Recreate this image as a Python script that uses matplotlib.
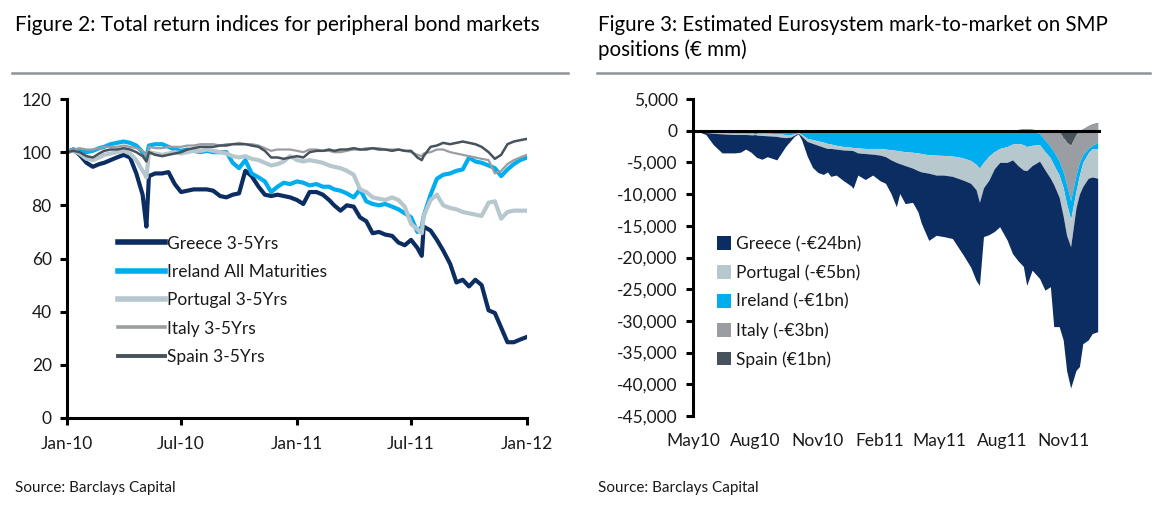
import numpy as np
import pandas as pd
import matplotlib
matplotlib.use('Agg')
from matplotlib import pyplot as plt
from matplotlib import transforms as mtransforms
from matplotlib.lines import Line2D
from matplotlib.patches import Patch

plt.rcParams['font.family'] = ['Lato', 'DejaVu Sans']

# ---------------- Figure 2: total return indices (Jan-10 = 100)
tr_dates = ['2010-01-01', '2010-01-11', '2010-01-21', '2010-02-01', '2010-02-11', '2010-02-21',
            '2010-03-01', '2010-03-11', '2010-03-21', '2010-04-01', '2010-04-11', '2010-04-21',
            '2010-05-01', '2010-05-04', '2010-05-07', '2010-05-11', '2010-05-21',
            '2010-06-01', '2010-06-11', '2010-06-21', '2010-07-01', '2010-07-11', '2010-07-21',
            '2010-08-01', '2010-08-11', '2010-08-21', '2010-09-01', '2010-09-11', '2010-09-21',
            '2010-10-01', '2010-10-11', '2010-10-21', '2010-11-01', '2010-11-11', '2010-11-21',
            '2010-12-01', '2010-12-11', '2010-12-21',
            '2011-01-01', '2011-01-11', '2011-01-21', '2011-02-01', '2011-02-11', '2011-02-21',
            '2011-03-01', '2011-03-11', '2011-03-21', '2011-04-01', '2011-04-11', '2011-04-21',
            '2011-05-01', '2011-05-11', '2011-05-21', '2011-06-01', '2011-06-11', '2011-06-21',
            '2011-07-01', '2011-07-11', '2011-07-18', '2011-07-21', '2011-08-01', '2011-08-11',
            '2011-08-21', '2011-09-01', '2011-09-11', '2011-09-21', '2011-10-01', '2011-10-11',
            '2011-10-21', '2011-11-01', '2011-11-11', '2011-11-21', '2011-12-01', '2011-12-11',
            '2011-12-21', '2012-01-01']

greece_tr = [100, 101, 99, 96, 94.5, 95.5, 96, 97, 98, 99, 98, 92,
             84, 78, 72, 91, 92, 92, 92.5, 88, 85, 85.5, 86,
             86, 86, 85.5, 83.5, 83, 84, 84.5, 93, 91, 87, 84, 83.5,
             84, 83.5, 83,
             82, 80.5, 85, 85, 84, 82, 80, 78, 80, 79.5, 75.5, 74,
             69.5, 70, 69, 68.5, 66, 65, 67, 64, 61, 72, 70.5, 67,
             63, 58, 51, 52, 49.5, 52, 50, 40.5, 39.5, 34, 28.5, 28.5,
             29.5, 30.5]
ireland_tr = [100, 101, 100.5, 100, 100.5, 101.5, 102, 103, 103.5, 104, 103.5, 102.5,
              100, 99, 98, 102.5, 103, 103, 102, 101, 100.5, 101, 100.5,
              100, 100.5, 100, 100, 100, 96, 94, 97, 92, 90.5, 89, 85,
              87, 88.5, 88,
              89, 88.5, 87.5, 88, 87, 87, 86, 85.5, 84.5, 83, 86, 81.5,
              80.5, 80, 80.5, 79.5, 78.5, 77, 75.5, 70, 72, 76, 84, 90,
              91.5, 92, 93, 93.5, 98, 96.5, 96, 95, 94, 91, 93.5, 95.5,
              97, 98]
portugal_tr = [100, 100.5, 99.5, 97.5, 97, 98, 99, 99.5, 100, 100.5, 99.5, 97,
               93, 92, 90.5, 100, 99.5, 99, 99.5, 100, 99.5, 100, 100.5,
               100.5, 101, 100.5, 100, 99.5, 98.5, 98, 98.5, 97.5, 97, 96, 95,
               95.5, 96.5, 98.5,
               97, 96.5, 97, 96.5, 96, 95, 94.5, 94, 93, 91.5, 86, 85,
               83, 82.5, 82, 83, 82, 79.5, 73, 71, 69.5, 76, 82, 84,
               80, 79, 78.5, 77.5, 77, 76.5, 76, 81, 81.5, 75, 77.5, 78,
               78, 78]
italy_tr = [100, 101, 101.5, 101, 101, 101.5, 102, 102, 102, 102.5, 102, 101.5,
            100.5, 99.5, 98.5, 102, 101.5, 101.5, 102, 102, 102, 102.5, 102.5,
            103, 103, 103, 102.5, 103, 103, 103.5, 103, 103, 102.5, 101.5, 100.5,
            101, 101, 101,
            100.5, 100, 101, 101, 100.5, 100.5, 100, 100, 100.5, 101, 101, 101.5,
            101.5, 101.5, 101, 101, 101, 100.5, 100, 99, 98.5, 99.5, 100, 101,
            101, 100, 99.5, 99, 98.5, 98, 97.5, 97, 92, 93, 95.5, 97,
            98, 99]
spain_tr = [100, 100.5, 100, 98.5, 98, 99.5, 100.5, 101, 101, 101.5, 101, 100,
            98.5, 97.5, 96.5, 100, 99, 98.5, 99, 99.5, 100, 101, 101.5,
            102, 102, 102, 102.5, 102.5, 103, 103, 103, 102.5, 102, 100.5, 98,
            98, 97.5, 98,
            98.5, 98, 100, 100.5, 100.5, 101, 100.5, 101, 101, 101.5, 101, 101,
            101.5, 101, 101, 100.5, 101, 100.5, 100.5, 98, 97, 98.5, 102, 102.5,
            103.5, 103, 103.5, 104, 103.5, 103, 102, 100, 97.5, 99, 103, 104,
            104.5, 105]

tr_labels = ['Greece 3-5Yrs', 'Ireland All Maturities', 'Portugal 3-5Yrs',
             'Italy 3-5Yrs', 'Spain 3-5Yrs']
tr_ticks = ['2010-01-01', '2010-07-01', '2011-01-01', '2011-07-01', '2012-01-01']
tr_tick_labels = ['Jan-10', 'Jul-10', 'Jan-11', 'Jul-11', 'Jan-12']

# ---------------- Figure 3: SMP mark-to-market (EUR mm), days after 10 May 2010
smp_days = [0, 8, 19, 30, 43, 62, 70, 78, 86, 94, 102, 110, 124, 129, 137, 145, 150, 156,
            161, 169, 177, 185, 193, 199, 204, 212, 223, 234, 237, 244, 255, 266, 277, 285,
            293, 301, 306, 314, 325, 333, 338, 349, 360, 371, 384, 392, 400, 411, 419, 424,
            430, 438, 446, 454, 465, 473, 481, 489, 494, 502, 513, 521, 529, 534, 542, 548,
            553, 559, 567, 572, 577, 585, 591, 599]
spain_mtm = [0] * 56 + [200, 300, 300, 250, 0, 0, 0, 0, -200, -1000, -1800, -2300,
                        -600, 0, 300, 800, 1100, 1300]
italy_mtm = [0] * 56 + [-250, -400, -400, -350, -400, -1500, -2500, -3300, -4600, -5500,
                        -6700, -8700, -6400, -5000, -4100, -3600, -3400, -3200]
ireland_mtm = [0, -100, -200, -300, -350, -400, -400, -400, -400, -400, -400, -400,
               -450, -500, -600, -600, -500, -300, -600, -1200, -1400, -1600, -1800, -2000,
               -2100, -2300, -2500, -2600, -2650, -2700, -2800, -2800, -2800, -2900, -3000,
               -3100, -3200, -3300, -3400, -3500, -3600, -3800, -3850, -3900, -4000, -4100,
               -4300, -4700, -5300, -5900, -5000, -4000, -3300, -2800, -2500, -2100,
               -1950, -2100, -2400, -2200, -1800, -1800, -1800, -2100, -2200, -2500, -3000,
               -3000, -2500, -2000, -1200, -700, -500, -1000]
portugal_mtm = [0, -50, -100, -100, -150, -200, -200, -200, -250, -300, -350, -400,
                -450, -500, -500, -400, -200, -100, -300, -500, -600, -700, -800, -800,
                -700, -600, -550, -500, -500, -800, -800, -900, -1050, -1200, -1600,
                -1900, -2000, -2200, -2500, -2800, -2900, -2900, -3150, -3100, -3200, -3400,
                -3500, -3600, -4000, -5400, -4000, -3800, -2700, -2200, -2500, -2500,
                -3500, -4000, -3800, -3200, -2600, -2900, -3200, -3100, -3500, -4500, -5000,
                -4300, -2600, -3000, -3800, -4000, -4500, -4600]
greece_mtm = [0, 0, -300, -1800, -3000, -2900, -2800, -2300, -2750, -3500, -3750, -3300,
              -3700, -2800, -1400, -500, -200, -100, -600, -2300, -3800, -4300, -4300, -3700,
              -4400, -4100, -4850, -5600, -5950, -3500, -4100, -3300, -4050, -4200, -5300,
              -7000, -4700, -6000, -5400, -6500, -8100, -10600, -9500, -9700, -9800, -10800,
              -11800, -13200, -14300, -13100, -7700, -8600, -9900, -10150, -12250, -14800,
              -15000, -15200, -18100, -16500, -18500, -18950, -17100, -22400, -20400,
              -19500, -21300, -22300, -25700, -27200, -24800, -25500, -24700, -24200]

smp_labels = ['Greece (-€24bn)', 'Portugal (-€5bn)', 'Ireland (-€1bn)',
              'Italy (-€3bn)', 'Spain (€1bn)']
smp_ticks = ['2010-05-10', '2010-08-10', '2010-11-10', '2011-02-10',
             '2011-05-10', '2011-08-10', '2011-11-10']
smp_tick_labels = ['May10', 'Aug10', 'Nov10', 'Feb11', 'May11', 'Aug11', 'Nov11']

# colours
navy = '#0c2d62'
sky = '#00aeef'
pale = '#b7c7ce'
grey = '#9a9da1'
slate = '#47525c'
ink = '#1a1a1a'

fig = plt.figure(figsize=(11.6, 5.08), dpi=100)
W, H = 1160.0, 508.0


def px_axes(x0, y_top, x1, y_bot):
    return fig.add_axes([x0 / W, 1 - y_bot / H, (x1 - x0) / W, (y_bot - y_top) / H])


def style_axis(ax):
    for side in ['top', 'right']:
        ax.spines[side].set_visible(False)
    for side in ['left', 'bottom']:
        ax.spines[side].set_linewidth(2.2)
        ax.spines[side].set_color('black')
    ax.tick_params(direction='out', length=5, width=2.2, colors='black',
                   labelcolor=ink, labelsize=12.5)


# ---- left chart
ax1 = px_axes(67, 99, 527, 418)
style_axis(ax1)
x_tr = pd.to_datetime(tr_dates)
series_tr = [greece_tr, ireland_tr, portugal_tr, italy_tr, spain_tr]
colors_tr = [navy, sky, pale, grey, slate]
widths_tr = [3.0, 3.0, 3.0, 1.6, 1.8]
for vals, col, lw, lab in zip(series_tr, colors_tr, widths_tr, tr_labels):
    ax1.plot(x_tr, vals, color=col, lw=lw, label=lab, solid_joinstyle='round')
ax1.set_xlim(pd.Timestamp('2010-01-01'), pd.Timestamp('2012-01-01'))
ax1.set_ylim(0, 120)
ax1.set_yticks(range(0, 121, 20))
ax1.set_xticks(pd.to_datetime(tr_ticks))
ax1.set_xticklabels(tr_tick_labels)
ax1.tick_params(axis='x', pad=8)
ax1.tick_params(axis='y', pad=6)

handles = [Line2D([], [], color=c, lw=w + 1.0) for c, w in zip(colors_tr, widths_tr)]
ax1.legend(handles, tr_labels, loc='upper left', bbox_to_anchor=(0.11, 0.572),
           frameon=False, fontsize=12.5, handlelength=2.75, handletextpad=0.1,
           labelspacing=0.71, borderaxespad=0, borderpad=0, labelcolor=ink)

# ---- right chart
ax2 = px_axes(693, 99, 1099, 416)
style_axis(ax2)
x_smp = pd.Timestamp('2010-05-10') + pd.to_timedelta(smp_days, unit='D')
stack_order = [spain_mtm, italy_mtm, ireland_mtm, portugal_mtm, greece_mtm]
stack_cols = [slate, grey, sky, pale, navy]
# Excel-style stacked bands: each series fills between running totals
bounds = np.vstack([np.zeros(len(smp_days)), np.cumsum(np.array(stack_order, dtype=float), axis=0)])
for k, col in enumerate(stack_cols):
    ax2.fill_between(x_smp, bounds[k], bounds[k + 1], color=col, lw=0, zorder=2 + k)

ax2.set_xlim(pd.Timestamp('2010-05-10'), pd.Timestamp('2010-05-10') + pd.Timedelta(days=601))
ax2.set_ylim(-45000, 5000)
ax2.set_yticks(range(-45000, 5001, 5000))
ax2.set_yticklabels(['{:,}'.format(v) for v in range(-45000, 5001, 5000)])
ax2.tick_params(axis='y', pad=6)
ax2.spines['bottom'].set_position(('data', 0))
ax2.spines['bottom'].set_zorder(10)
tick_x = pd.to_datetime(smp_ticks)
ax2.set_xticks(tick_x)
ax2.tick_params(axis='x', labelbottom=False)
trans = mtransforms.blended_transform_factory(ax2.transData, ax2.transAxes)
for tx, tl in zip(tick_x, smp_tick_labels):
    ax2.text(tx, -0.08, tl, transform=trans, ha='center', va='center',
             fontsize=12.5, color=ink)

legend_cols = [navy, pale, sky, grey, slate]
patches = [Patch(facecolor=c, edgecolor='none') for c in legend_cols]
ax2.legend(patches, smp_labels, loc='upper left', bbox_to_anchor=(0.058, 0.567),
           frameon=False, fontsize=12.5, handlelength=0.85, handleheight=0.85,
           handletextpad=0.25, labelspacing=0.71, borderaxespad=0, borderpad=0,
           labelcolor=ink)

# ---- titles, rules, sources
fig.text(15 / W, 1 - 25 / H, 'Figure 2: Total return indices for peripheral bond markets',
         fontsize=15, color='black', va='center', ha='left')
fig.text(598 / W, 1 - 37.5 / H, 'Figure 3: Estimated Eurosystem mark-to-market on SMP\npositions (€ mm)',
         fontsize=14.8, color='black', va='center', ha='left', linespacing=1.3)
fig.add_artist(Line2D([12 / W, 568 / W], [1 - 73 / H, 1 - 73 / H], color='#8f9397', lw=1.8))
fig.add_artist(Line2D([597 / W, 1150 / W], [1 - 73 / H, 1 - 73 / H], color='#8f9397', lw=1.8))
fig.text(15 / W, 1 - 488 / H, 'Source: Barclays Capital', fontsize=11, color=ink,
         va='center', ha='left')
fig.text(598 / W, 1 - 488 / H, 'Source: Barclays Capital', fontsize=11, color=ink,
         va='center', ha='left')

fig.savefig('out.png', dpi=100)
